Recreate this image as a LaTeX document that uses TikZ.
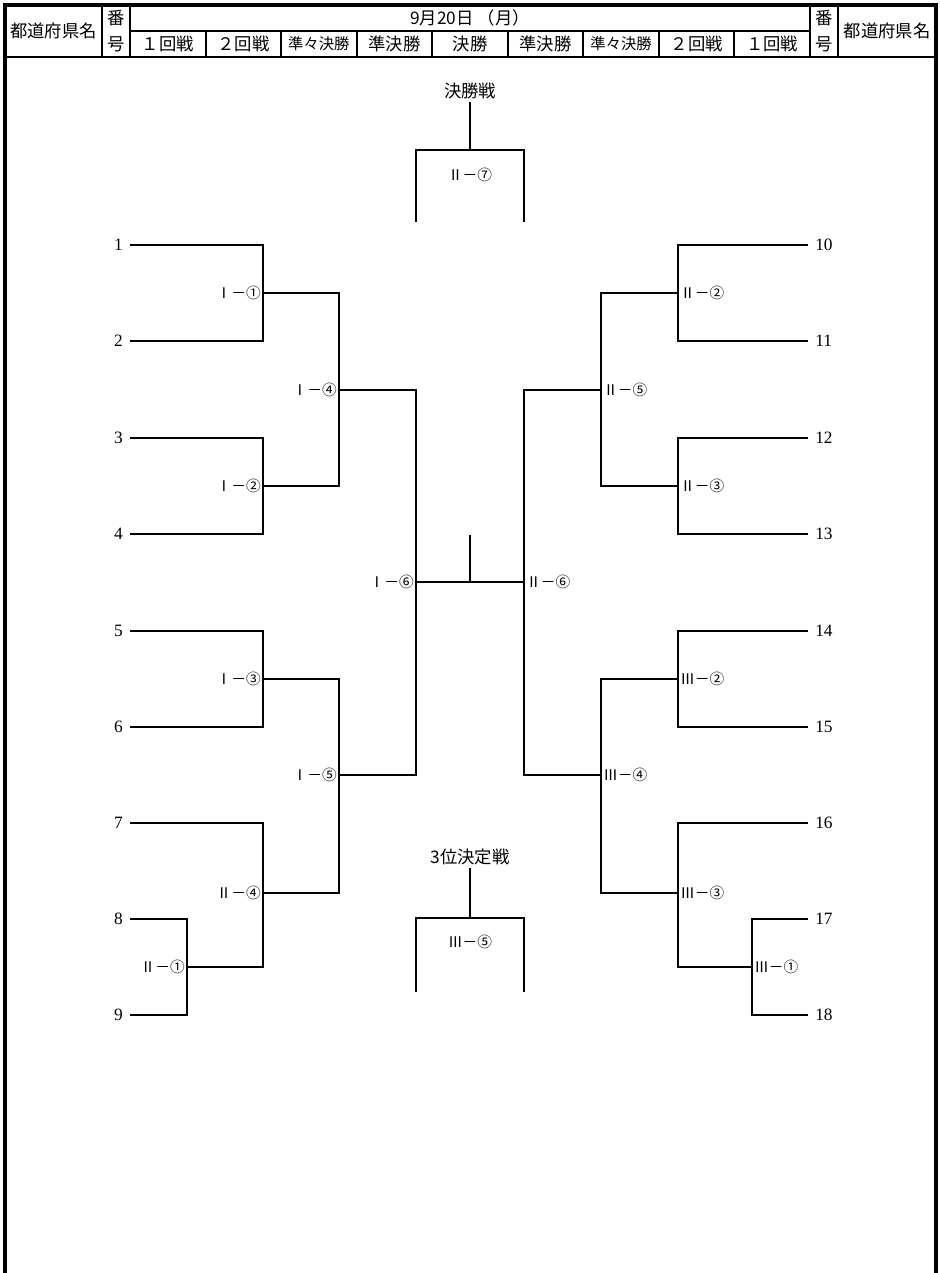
\documentclass[tikz,border=0pt]{standalone}
\usepackage{fontspec}
\setmainfont{Liberation Serif}
\newfontfamily\cjk{Noto Sans CJK JP}

\begin{document}
\begin{tikzpicture}[x=0.75pt,y=-0.75pt,
frame/.style={line width=3pt},
rule/.style={line width=1.5pt},
tie/.style={line width=1.8pt},
head/.style={font=\cjk\fontsize{13}{19.5}\selectfont,inner sep=0pt},
headsmall/.style={font=\cjk\fontsize{11.5}{13}\selectfont,inner sep=0pt},
game/.style={font=\cjk\fontsize{11}{13}\selectfont,inner sep=1.5pt},
seed/.style={font=\fontsize{13}{15}\selectfont,inner sep=0pt}]
\useasboundingbox (0,0) rectangle (939,1273);
% page frame, open at the bottom
\draw[frame] (5,1273) -- (5,5) -- (936,5) -- (936,1273);
% header grid
\draw[rule] (5,57) -- (936,57);
\draw[rule] (130,31) -- (810,31);
\foreach \x in {102,130,810,838} \draw[rule] (\x,5) -- (\x,57);
\foreach \i in {1,...,8} \draw[rule] ({130+\i*75.56},31) -- ({130+\i*75.56},57);
\node[head] (prefL) at (53.5,31) {都道府県名};
\node[head,align=center] (numL) at (116,31) {番\\号};
\node[head] (prefR) at (887,31) {都道府県名};
\node[head,align=center] (numR) at (824,31) {番\\号};
\node[head] (date) at (470,18) {9月20日 （月）};
\foreach \t/\f [count=\i] in {１回戦/head,２回戦/head,準々決勝/headsmall,準決勝/head,決勝/head,
  準決勝/head,準々決勝/headsmall,２回戦/head,１回戦/head}
  \node[\f] (round\i) at ({130+(\i-0.5)*75.56},44) {\t};
% seeds
\foreach \n/\y in {1/245,2/341,3/438,4/534,5/631,6/727,7/823,8/919,9/1015} {
  \node[seed,anchor=east] (s\n) at (123,\y) {\n};
  \coordinate (e\n) at (130,\y);
}
\foreach \n/\y in {10/245,11/341,12/438,13/534,14/631,15/727,16/823,17/919,18/1015} {
  \node[seed,anchor=west] (s\n) at (815,\y) {\n};
  \coordinate (e\n) at (808,\y);
}
% junctions, left half
\coordinate (a1) at (263,293);
\coordinate (a2) at (263,486);
\coordinate (a3) at (263,679);
\coordinate (b1) at (187,967);
\coordinate (b4) at (263,893);
\coordinate (a4) at (339,390);
\coordinate (a5) at (339,775);
\coordinate (a6) at (416,582);
% junctions, right half
\coordinate (b2) at (678,293);
\coordinate (b3) at (678,486);
\coordinate (b5) at (601,390);
\coordinate (c2) at (678,679);
\coordinate (c1) at (752,967);
\coordinate (c3) at (678,893);
\coordinate (c4) at (601,775);
\coordinate (b6) at (524,582);
% left bracket
\draw[tie] (e1) -| (a1) |- (e2);
\draw[tie] (e3) -| (a2) |- (e4);
\draw[tie] (e5) -| (a3) |- (e6);
\draw[tie] (e8) -| (b1) |- (e9);
\draw[tie] (e7) -| (b4) |- (b1);
\draw[tie] (a1) -| (a4) |- (a2);
\draw[tie] (a3) -| (a5) |- (b4);
\draw[tie] (a4) -| (a6) |- (a5);
% right bracket
\draw[tie] (e10) -| (b2) |- (e11);
\draw[tie] (e12) -| (b3) |- (e13);
\draw[tie] (e14) -| (c2) |- (e15);
\draw[tie] (e17) -| (c1) |- (e18);
\draw[tie] (e16) -| (c3) |- (c1);
\draw[tie] (b2) -| (b5) |- (b3);
\draw[tie] (c2) -| (c4) |- (c3);
\draw[tie] (b5) -| (b6) |- (c4);
% centre
\coordinate (ctop) at (470,535);
\draw[tie] (a6) -- (b6);
\draw[tie] (ctop) -- (ctop |- a6);
% match labels
\foreach \p/\t in {a1/Ⅰ－①,a2/Ⅰ－②,a3/Ⅰ－③,a4/Ⅰ－④,a5/Ⅰ－⑤,a6/Ⅰ－⑥,b1/Ⅱ－①,b4/Ⅱ－④}
  \node[game,anchor=east] (g\p) at (\p) {\t};
\foreach \p/\t in {b2/Ⅱ－②,b3/Ⅱ－③,b5/Ⅱ－⑤,b6/Ⅱ－⑥,c1/Ⅲ－①,c2/Ⅲ－②,c3/Ⅲ－③,c4/Ⅲ－④}
  \node[game,anchor=west] (g\p) at (\p) {\t};
% final and third place
\node[head] (final) at (470,91) {決勝戦};
\coordinate (fbar) at (470,150);
\coordinate (finL) at (416,222);
\coordinate (finR) at (524,222);
\draw[tie,shorten <=2pt] (final) -- (fbar);
\draw[tie] (finL) |- (fbar) -| (finR);
\node[game] (gfin) at (470,175) {Ⅱ－⑦};
\node[head] (third) at (470,857) {3位決定戦};
\coordinate (tbar) at (470,918);
\coordinate (thirdL) at (416,992);
\coordinate (thirdR) at (524,992);
\draw[tie,shorten <=2pt] (third) -- (tbar);
\draw[tie] (thirdL) |- (tbar) -| (thirdR);
\node[game] (gthird) at (470,942) {Ⅲ－⑤};
\end{tikzpicture}
\end{document}
